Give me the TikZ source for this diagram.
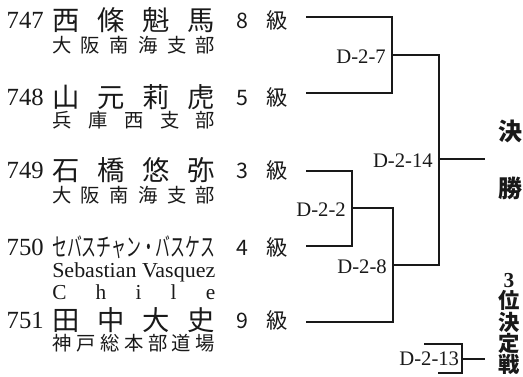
\documentclass[tikz,border=0pt]{standalone}
\usepackage{fontspec}
\usepackage{graphicx}
\usepackage{tikz}
\usetikzlibrary{positioning, calc}
\setmainfont{Liberation Serif}
\newfontfamily\cjk{Noto Sans CJK JP}
\definecolor{mydark}{RGB}{25,25,25}
\newlength{\namewd}
\setlength{\namewd}{122.25pt}
\newcommand{\spreadname}[1]{\makebox[\namewd][s]{#1}}
\newcommand{\squeezename}[1]{\resizebox{\namewd}{\height}{#1}}
\tikzset{
  seed/.style={inner sep=0pt, anchor=east, text=mydark,
    font=\fontsize{18.5}{18.5}\selectfont},
  player/.style={inner sep=0pt, anchor=west, text=mydark,
    font=\cjk\fontsize{20.5}{20.5}\selectfont},
  branch/.style={inner sep=0pt, anchor=west, text=mydark,
    font=\cjk\fontsize{14.5}{14.5}\selectfont},
  latin/.style={inner sep=0pt, anchor=west, text=mydark,
    font=\fontsize{16}{16}\selectfont},
  grade/.style={inner sep=0pt, anchor=west, text=mydark,
    font=\cjk\fontsize{16}{16}\selectfont},
  match/.style={inner sep=4.5pt, anchor=east, text=mydark,
    font=\fontsize{15.5}{15.5}\selectfont},
  title/.style={inner sep=0pt, text=mydark, align=center,
    font=\cjk\bfseries\fontsize{18}{18}\selectfont},
  line/.style={line width=1.1pt, color=mydark}
}

\begin{document}
\begin{tikzpicture}[x=0.75pt, y=-0.75pt]
  \useasboundingbox (0,0) rectangle (523,376);

  % Players
  \node[seed] (s747) at (44,20) {747};
  \node[player] (p747) at (52,20) {\spreadname{西\hfill 條\hfill 魁\hfill 馬}};
  \node[grade] (g747) at (236,20) {\makebox[39pt][s]{8\hfill 級}};
  \node[branch] (b747) at (52,45) {\spreadname{大\hfill 阪\hfill 南\hfill 海\hfill 支\hfill 部}};

  \node[seed] (s748) at (44,97) {748};
  \node[player] (p748) at (52,97) {\spreadname{山\hfill 元\hfill 莉\hfill 虎}};
  \node[grade] (g748) at (236,97) {\makebox[39pt][s]{5\hfill 級}};
  \node[branch] (b748) at (52,120) {\spreadname{兵\hfill 庫\hfill 西\hfill 支\hfill 部}};

  \node[seed] (s749) at (44,170) {749};
  \node[player] (p749) at (52,170) {\spreadname{石\hfill 橋\hfill 悠\hfill 弥}};
  \node[grade] (g749) at (236,170) {\makebox[39pt][s]{3\hfill 級}};
  \node[branch] (b749) at (52,195) {\spreadname{大\hfill 阪\hfill 南\hfill 海\hfill 支\hfill 部}};

  \node[seed] (s750) at (44,247) {750};
  \node[player, font=\cjk\fontsize{19}{19}\selectfont] (p750) at (52,247) {\squeezename{セバスチャン・バスケス}};
  \node[grade] (g750) at (236,247) {\makebox[39pt][s]{4\hfill 級}};
  \node[latin] (b750) at (52,272) {\squeezename{Sebastian Vasquez}};
  \node[latin] (c750) at (52,292) {\spreadname{C\hfill h\hfill i\hfill l\hfill e}};

  \node[seed] (s751) at (44,320) {751};
  \node[player] (p751) at (52,320) {\spreadname{田\hfill 中\hfill 大\hfill 史}};
  \node[grade] (g751) at (236,320) {\makebox[39pt][s]{9\hfill 級}};
  \node[branch] (b751) at (52,343) {\spreadname{神\hfill 戸\hfill 総\hfill 本\hfill 部\hfill 道\hfill 場}};

  % Coordinates
  \coordinate (e747) at (306,17);
  \coordinate (e748) at (306,93);
  \coordinate (e749) at (306,171);
  \coordinate (e750) at (306,246);
  \coordinate (e751) at (306,322);
  \coordinate (j7) at (392,55);
  \coordinate (j2) at (352,208);
  \coordinate (j8) at (393,265);
  \coordinate (j14) at (439,159);
  \coordinate (j13) at (462,359);
  \coordinate (t13a) at (424,344);
  \coordinate (t13b) at (438,373);
  \coordinate (fin) at (485,159);
  \coordinate (third) at (485,359);

  % Bracket
  \draw[line] (e747) -| (j7) |- (e748);
  \draw[line] (e749) -| (j2) |- (e750);
  \draw[line] (j2) -| (j8) |- (e751);
  \draw[line] (j7) -| (j14) |- (j8);
  \draw[line] (j14) -- (fin);
  \draw[line] (t13a) -| (j13) |- (t13b);
  \draw[line] (j13) -- (third);

  % Match numbers
  \node[match, yshift=-1.5pt] (m7) at (j7) {D-2-7};
  \node[match, yshift=-1.5pt] (m2) at (j2) {D-2-2};
  \node[match, yshift=-1.5pt] (m8) at (j8) {D-2-8};
  \node[match, yshift=-1.5pt] (m14) at (j14) {D-2-14};
  \node[match, inner sep=2pt] (m13) at (j13) {D-2-13};

  % Titles
  \node[title] (fin1) at (510,131) {決};
  \node[title] (fin2) at (510,188) {勝};
  \node[title, font=\cjk\bfseries\fontsize{16}{16}\selectfont] (bronze) at (509,324)
    {{\rmfamily\bfseries 3}\\位\\決\\定\\戦};
\end{tikzpicture}
\end{document}
